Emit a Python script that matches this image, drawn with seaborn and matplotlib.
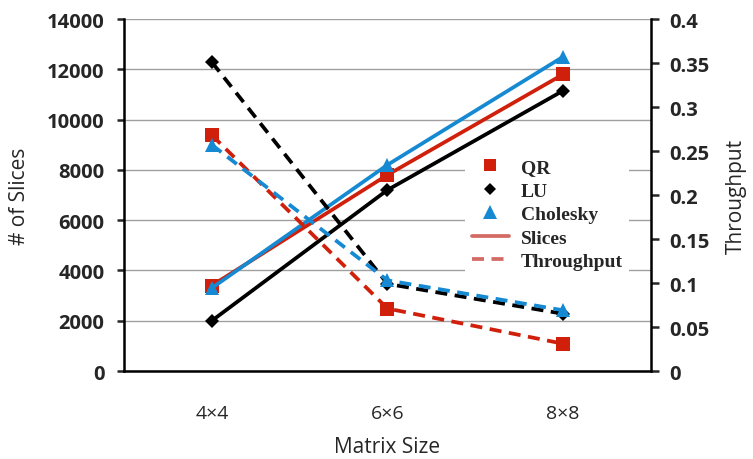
import matplotlib
matplotlib.use('Agg')
import matplotlib.pyplot as plt
import seaborn as sns
import pandas as pd
from matplotlib.lines import Line2D

# data
sizes = ['4×4', '6×6', '8×8']
methods = ['QR', 'LU', 'Cholesky']
slices_qr = [3400, 7800, 11800]
slices_lu = [2000, 7200, 11150]
slices_chol = [3300, 8200, 12500]
thr_qr = [0.268, 0.071, 0.031]
thr_lu = [0.351, 0.099, 0.065]
thr_chol = [0.257, 0.103, 0.069]

df = pd.DataFrame({
    'size': sizes * 3,
    'method': [m for m in methods for _ in sizes],
    'slices': slices_qr + slices_lu + slices_chol,
    'throughput': thr_qr + thr_lu + thr_chol,
})

colors = {'QR': '#d0200c', 'LU': '#000000', 'Cholesky': '#1589d2'}
markers = {'QR': 's', 'LU': 'D', 'Cholesky': '^'}
msizes = {'QR': 9.5, 'LU': 7.5, 'Cholesky': 10.5}

sns.set_style('white')
plt.rcParams['font.family'] = ['Open Sans', 'DejaVu Sans']

fig, ax = plt.subplots(figsize=(7.53, 4.60), dpi=100)
fig.subplots_adjust(left=0.1647, right=0.8645, bottom=0.1913, top=0.9565)
ax2 = ax.twinx()

for m in methods:
    sub = df[df['method'] == m]
    sns.lineplot(data=sub, x='size', y='slices', ax=ax, color=colors[m],
                 marker=markers[m], markersize=msizes[m], markeredgewidth=0,
                 linewidth=2.7, sort=False, legend=False)
for m in methods:
    sub = df[df['method'] == m]
    sns.lineplot(data=sub, x='size', y='throughput', ax=ax2, color=colors[m],
                 marker=markers[m], markersize=msizes[m], markeredgewidth=0,
                 linewidth=2.7, sort=False, legend=False)
for ln in ax2.lines:
    ln.set_dashes((3.2, 2.0))

ax.set_xlim(-0.5, 2.5)
ax.set_ylim(0, 14000)
ax2.set_ylim(0, 0.4)
ax.set_yticks(range(0, 14001, 2000))
ax2.set_yticks([0, 0.05, 0.1, 0.15, 0.2, 0.25, 0.3, 0.35, 0.4])
ax2.set_yticklabels(['0', '0.05', '0.1', '0.15', '0.2', '0.25', '0.3', '0.35', '0.4'])
ax.set_xticks([0, 1, 2])
ax.set_xticklabels(sizes)
ax.set_xticks([-0.5, 0.5, 1.5, 2.5], minor=True)

ax.grid(axis='y', color='#a0a0a0', linewidth=1.0)
ax.set_axisbelow(True)

for a in (ax, ax2):
    a.spines['top'].set_visible(False)
    for s in ('left', 'right', 'bottom'):
        a.spines[s].set_linewidth(1.8)
        a.spines[s].set_color('black')
ax.spines['right'].set_visible(False)
ax2.spines['left'].set_visible(False)
ax2.spines['bottom'].set_visible(False)

ax.tick_params(axis='x', which='major', length=0, pad=24, labelsize=14)
ax.tick_params(axis='x', which='minor', length=7, width=1.8, direction='out', color='black')
ax.tick_params(axis='y', length=5, width=1.8, direction='out', pad=9, labelsize=14.5, left=True)
ax2.tick_params(axis='y', length=6, width=1.8, direction='out', pad=7, labelsize=14.5, right=True)
for lab in ax.get_yticklabels() + ax2.get_yticklabels():
    lab.set_fontweight('bold')

ax.set_xlabel('Matrix Size', fontsize=15, labelpad=10)
ax.set_ylabel('# of Slices', fontsize=15, labelpad=12)
ax2.set_ylabel('Throughput', fontsize=15, labelpad=12)

handles = [Line2D([], [], color=colors[m], marker=markers[m], linestyle='None',
                  markersize=msizes[m] - 1, markeredgewidth=0) for m in methods]
handles.append(Line2D([], [], color='#d36b64', linewidth=2.7))
handles.append(Line2D([], [], color='#d36b64', linewidth=2.7, dashes=(3.2, 2.0)))
leg = ax2.legend(handles, methods + ['Slices', 'Throughput'], loc='center left',
                 bbox_to_anchor=(0.64, 0.445), frameon=True, framealpha=1,
                 edgecolor='none', fancybox=False, handlelength=1.9,
                 labelspacing=0.3, borderpad=0.35, handletextpad=0.6,
                 borderaxespad=0.2,
                 prop={'family': 'Liberation Serif', 'weight': 'bold', 'size': 14})
leg.set_zorder(10)

fig.savefig('out.png', dpi=100)
